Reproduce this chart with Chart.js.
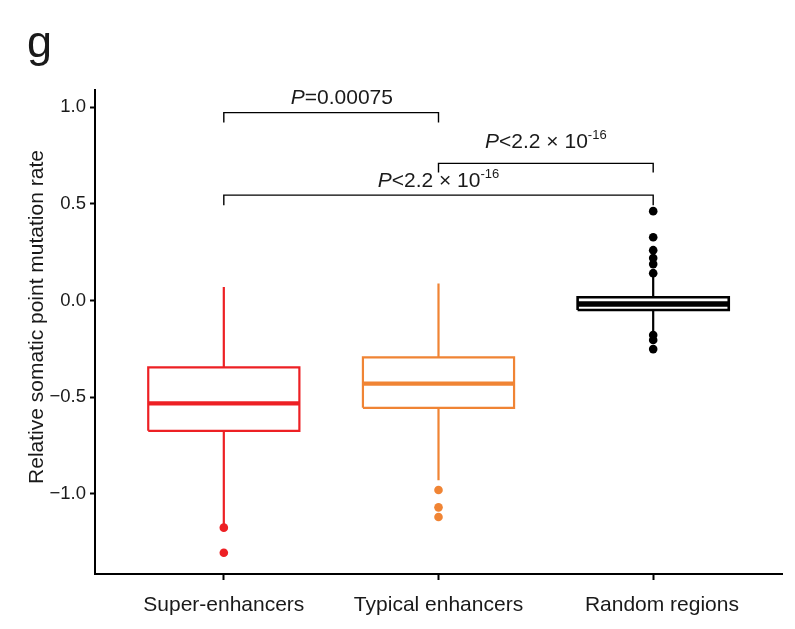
<!DOCTYPE html>
<html>
<head>
<meta charset="utf-8">
<script src="https://cdn.jsdelivr.net/npm/chart.js@4.4.1/dist/chart.umd.min.js"></script>
<style>
html,body{margin:0;padding:0;background:#fff;}
#wrap{position:relative;width:795px;height:629px;}
</style>
</head>
<body>
<div id="wrap"><canvas id="c" width="795" height="629"></canvas></div>
<script>
// ---- data ----
const categories = ['Super-enhancers', 'Typical enhancers', '   Random regions'];
const positions = [1, 2, 3];
const whiskerLow = [-1.16, -0.93, -0.16];
const q1 = [-0.674, -0.555, -0.049];
const median = [-0.532, -0.430, -0.017];
const q3 = [-0.346, -0.294, 0.017];
const whiskerHigh = [0.071, 0.089, 0.13];
const outliers = [
  [-1.175, -1.305],
  [-0.98, -1.07, -1.12],
  [0.463, 0.328, 0.261, 0.22, 0.189, 0.142, -0.178, -0.204, -0.251]
];
const yTicks = [-1.0, -0.5, 0.0, 0.5, 1.0];

// significance brackets
const bracketFrom = [1, 2, 1];
const bracketTo = [2, 3, 3];
const bracketTop = [0.973, 0.710, 0.546];
const bracketBottom = [0.922, 0.663, 0.494];
const labelPrefix = ['P', 'P', 'P'];
const labelMain = ['=0.00075', '<2.2 \u00d7 10', '<2.2 \u00d7 10'];
const labelSup = ['', '-16', '-16'];
const labelX = [1.55, 2.5, 2.0];
const labelBaseY = [1.017, 0.789, 0.587];

const panelLetter = 'g';
const yTitle = 'Relative somatic point mutation rate';

// ---- styles ----
const colors = ['#ED2024', '#F08434', '#000000'];
const halfW = 0.352;
const FONT = "'Liberation Sans', Arial, sans-serif";

const datasets = [];
positions.forEach((x, i) => {
  const c = colors[i];
  // whiskers
  datasets.push({
    type: 'scatter', showLine: true, spanGaps: false,
    data: [{x: x, y: whiskerHigh[i]}, {x: x, y: q3[i]}, {x: x, y: null}, {x: x, y: q1[i]}, {x: x, y: whiskerLow[i]}],
    borderColor: c, borderWidth: 2.2, pointRadius: 0, fill: false
  });
  // box outline
  datasets.push({
    type: 'scatter', showLine: true,
    data: [{x: x - halfW, y: q1[i]}, {x: x + halfW, y: q1[i]}, {x: x + halfW, y: q3[i]}, {x: x - halfW, y: q3[i]}, {x: x - halfW, y: q1[i]}],
    borderColor: c, borderWidth: i === 2 ? 2.6 : 2.2, borderJoinStyle: 'miter', pointRadius: 0,
    fill: false, backgroundColor: 'rgba(0,0,0,0)'
  });
  // median
  datasets.push({
    type: 'scatter', showLine: true,
    data: [{x: x - halfW, y: median[i]}, {x: x + halfW, y: median[i]}],
    borderColor: c, borderWidth: i === 2 ? 5.5 : 4.2, borderCapStyle: 'butt', pointRadius: 0
  });
  // outliers
  datasets.push({
    type: 'scatter', showLine: false,
    data: outliers[i].map(v => ({x: x, y: v})),
    backgroundColor: c, borderWidth: 0, pointRadius: 4.3
  });
});
// brackets
bracketFrom.forEach((a, k) => {
  const b = bracketTo[k];
  datasets.push({
    type: 'scatter', showLine: true,
    data: [{x: a, y: bracketBottom[k]}, {x: a, y: bracketTop[k]}, {x: b, y: bracketTop[k]}, {x: b, y: bracketBottom[k]}],
    borderColor: '#000', borderWidth: 1.4, borderJoinStyle: 'miter', pointRadius: 0
  });
});

const textPlugin = {
  id: 'texts',
  afterDraw(chart) {
    const ctx = chart.ctx;
    const xs = chart.scales.x, ys = chart.scales.y;
    ctx.save();
    ctx.fillStyle = '#1a1a1a';
    // panel letter
    ctx.font = '45px ' + FONT;
    ctx.textBaseline = 'alphabetic';
    ctx.textAlign = 'left';
    ctx.fillText(panelLetter, 27, 57);
    // y title
    ctx.save();
    ctx.translate(43, 317);
    ctx.rotate(-Math.PI / 2);
    ctx.font = '21px ' + FONT;
    ctx.textAlign = 'center';
    ctx.textBaseline = 'alphabetic';
    ctx.fillText(yTitle, 0, 0);
    ctx.restore();
    // bracket labels
    labelMain.forEach((m, k) => {
      const fMain = '21px ' + FONT, fIt = 'italic 21px ' + FONT, fSup = '13px ' + FONT;
      ctx.font = fIt; const wP = ctx.measureText(labelPrefix[k]).width;
      ctx.font = fMain; const wM = ctx.measureText(m).width;
      ctx.font = fSup; const wS = labelSup[k] ? ctx.measureText(labelSup[k]).width : 0;
      const total = wP + wM + wS;
      let px = xs.getPixelForValue(labelX[k]) - total / 2;
      const py = ys.getPixelForValue(labelBaseY[k]);
      ctx.textAlign = 'left';
      ctx.textBaseline = 'alphabetic';
      ctx.font = fIt; ctx.fillText(labelPrefix[k], px, py); px += wP;
      ctx.font = fMain; ctx.fillText(m, px, py); px += wM;
      if (labelSup[k]) { ctx.font = fSup; ctx.fillText(labelSup[k], px, py - 9); }
    });
    ctx.restore();
  }
};

new Chart(document.getElementById('c'), {
  type: 'scatter',
  data: {datasets: datasets},
  plugins: [textPlugin],
  options: {
    responsive: false,
    animation: false,
    events: [],
    layout: {padding: {left: 0, right: 13, top: 90, bottom: 0}},
    plugins: {legend: {display: false}, tooltip: {enabled: false}, title: {display: false}},
    scales: {
      x: {
        type: 'linear', min: 0.4, max: 3.6,
        afterFit(s) { s.height = 55; },
        afterBuildTicks(s) { s.ticks = positions.map(v => ({value: v})); },
        ticks: {
          autoSkip: false, maxRotation: 0, padding: 13,
          color: '#1a1a1a', font: {family: FONT, size: 21},
          callback: (v) => { const i = positions.indexOf(v); return i >= 0 ? categories[i] : ''; }
        },
        grid: {drawOnChartArea: false, drawTicks: true, tickLength: 6, tickColor: '#000', tickWidth: 2},
        border: {display: true, color: '#000', width: 2}
      },
      y: {
        type: 'linear', min: -1.415, max: 1.09,
        afterFit(s) { s.width = 95; },
        afterBuildTicks(s) { s.ticks = yTicks.map(v => ({value: v})); },
        ticks: {
          padding: 4, color: '#1a1a1a', font: {family: FONT, size: 18.5},
          callback: (v) => (v < 0 ? '\u2212' : '') + Math.abs(v).toFixed(1)
        },
        grid: {drawOnChartArea: false, drawTicks: true, tickLength: 5, tickColor: '#000', tickWidth: 2},
        border: {display: true, color: '#000', width: 2}
      }
    }
  }
});
</script>
</body>
</html>
